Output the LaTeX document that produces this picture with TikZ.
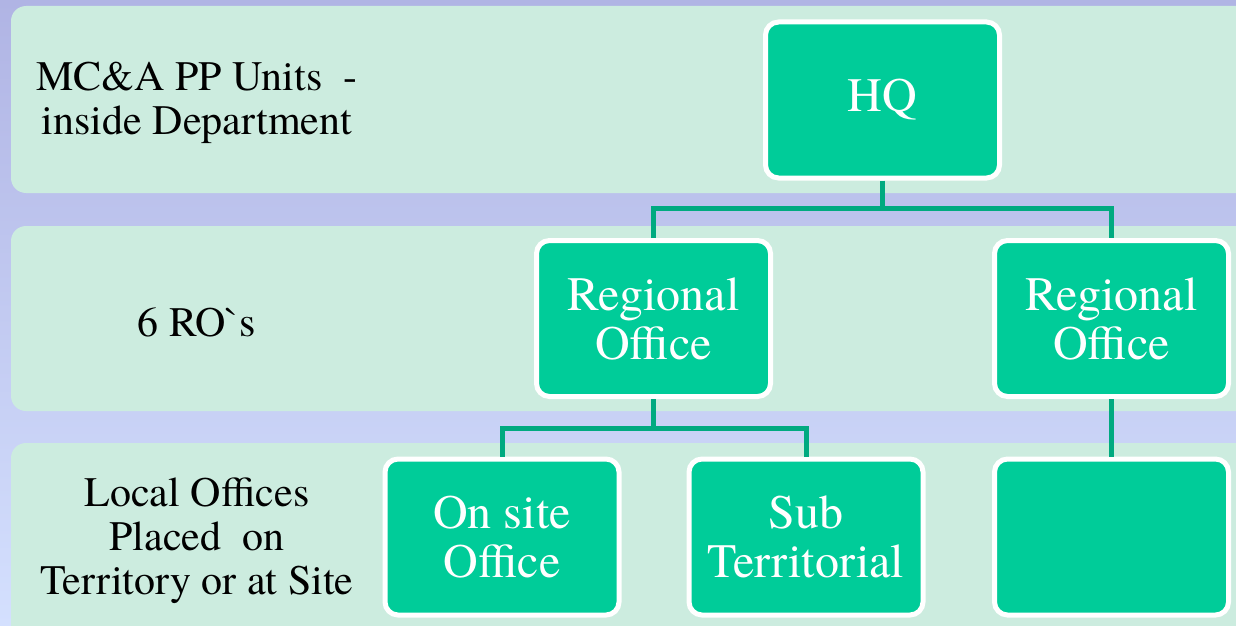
\documentclass[tikz,border=0pt]{standalone}
\usepackage{fontspec}
\newfontfamily\lserif{texgyretermes-regular.otf}
\usepackage{tikz}

\definecolor{bgtop}{HTML}{B0B4E4}
\definecolor{bgbot}{HTML}{D4E0FE}
\definecolor{band}{HTML}{CCECDF}
\definecolor{boxgreen}{HTML}{00CC99}
\definecolor{linkgreen}{HTML}{00AA80}

\tikzset{
	unit/.style={draw=white, line width=5pt, fill=boxgreen, rounded corners=13pt,
		minimum width=234pt, minimum height=156pt, inner sep=0pt, align=center,
		text=white, font=\lserif\fontsize{48}{49}\selectfont},
	level/.style={align=center, text=black, font=\lserif\fontsize{42}{44}\selectfont},
	link/.style={draw=linkgreen, line width=5pt}
}

\begin{document}
\begin{tikzpicture}[x=1pt, y=-1pt]
	\useasboundingbox (0,0) rectangle (1236,626);
	\clip (0,0) rectangle (1236,626);
	\shade[top color=bgtop, bottom color=bgbot] (0,0) rectangle (1236,626);
	% bands
	\fill[band, rounded corners=15pt] (11,6) rectangle (1260,193);
	\fill[band, rounded corners=15pt] (11,226) rectangle (1260,411);
	\fill[band, rounded corners=15pt] (11,443) rectangle (1260,650);
	% level texts
	\node[level] (t1) at (197,103) {MC\&A PP Units~~-\\inside Department};
	\node[level] (t2) at (197,322) {6 RO`s};
	\node[level] (t3) at (197,541) {Local Offices\\Placed~~on\\Territory or at Site};
	% boxes
	\node[unit] (hq) at (882.5,100) {HQ};
		\node[unit] (r1) at (653.5,318.5) {Regional\\Office};
		\node[unit] (r2) at (1111.5,318.5) {Regional\\Office};
			\node[unit] (l1) at (502,537) {On site\\Office};
			\node[unit] (l2) at (806,537) {Sub\\Territorial};
			\node[unit] (l3) at (1111.5,537) {};
	\coordinate (j1) at (882.5,208);
	\coordinate (j2) at (653.5,428);
	\draw[link] (hq) -- (j1) -| (r1);
	\draw[link] (j1) -| (r2);
	\draw[link] (r1) -- (j2) -| (l1);
	\draw[link] (j2) -| (l2);
	\draw[link] (r2) -- (l3);
\end{tikzpicture}
\end{document}
